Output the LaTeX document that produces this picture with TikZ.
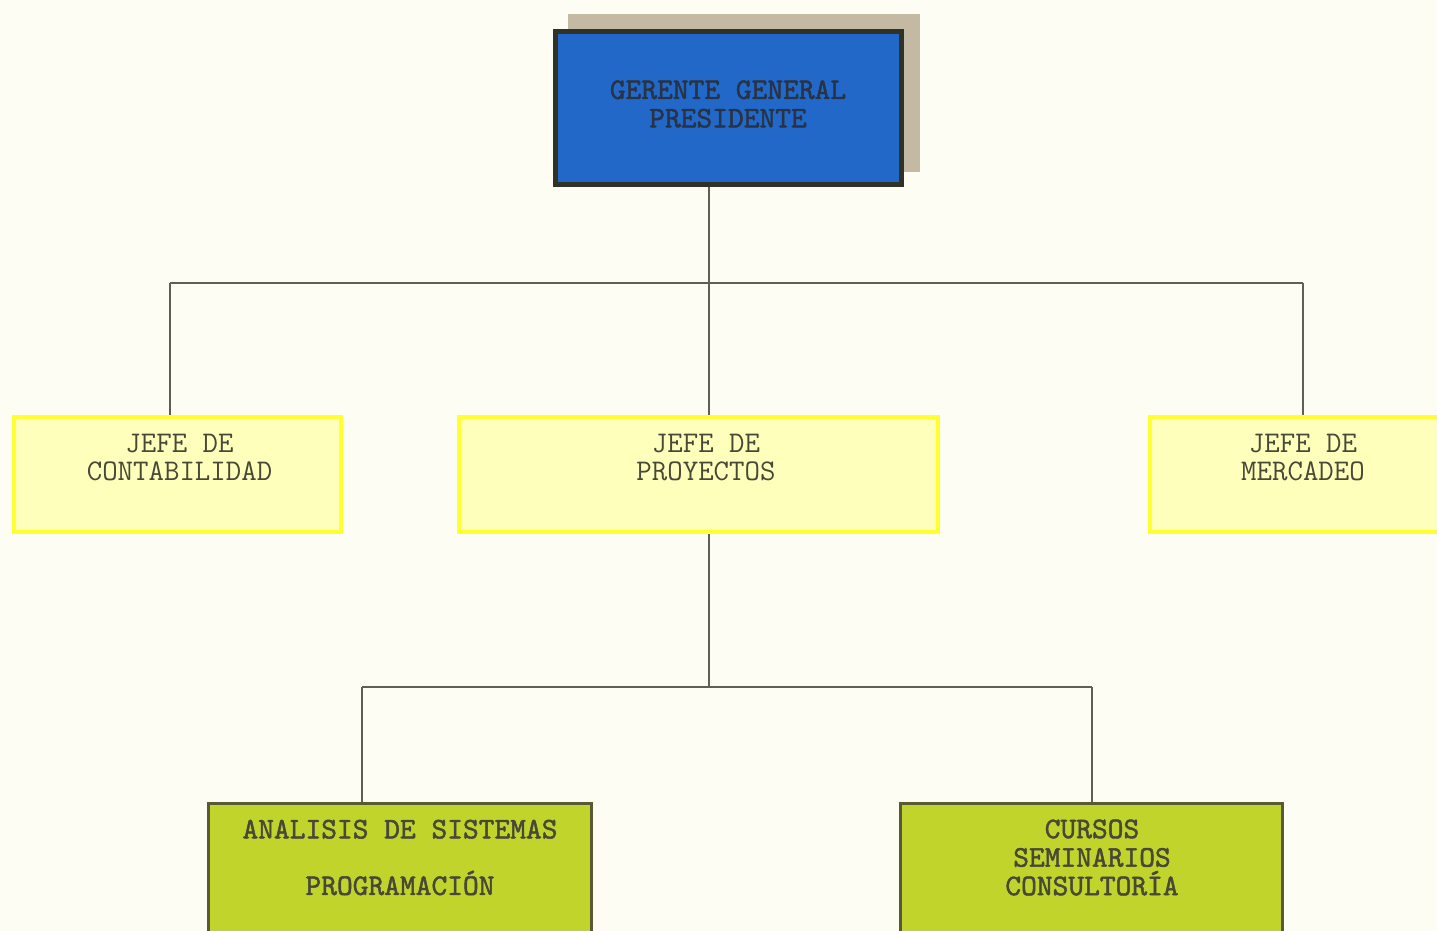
\documentclass[tikz,border=0pt]{standalone}
\usepackage{fontspec}
\newfontfamily\ttbold{lmmono10-regular.otf}[FakeBold=1.6]
\definecolor{bgc}{RGB}{253,253,243}
\definecolor{bluefill}{RGB}{33,104,200}
\definecolor{blueborder}{RGB}{48,50,40}
\definecolor{shadowc}{RGB}{196,186,164}
\definecolor{yfill}{RGB}{255,255,188}
\definecolor{yborder}{RGB}{255,255,50}
\definecolor{gfill}{RGB}{192,212,44}
\definecolor{gborder}{RGB}{88,90,52}
\definecolor{linec}{RGB}{95,95,85}
\definecolor{txtc}{RGB}{72,72,55}
\definecolor{toptxt}{RGB}{40,52,70}
\begin{document}
\begin{tikzpicture}[x=1pt,y=-1pt,
  boxbase/.style={rectangle, inner sep=0pt},
  topbox/.style={boxbase, fill=bluefill, draw=blueborder, line width=5pt},
  ybox/.style={boxbase, fill=yfill, draw=yborder, line width=4pt},
  gbox/.style={boxbase, fill=gfill, draw=gborder, line width=3pt},
  txt/.style={inner sep=0pt, align=center, text=txtc, font=\ttfamily\fontsize{30}{28}\selectfont},
  btxt/.style={txt, font=\ttbold\fontsize{30}{28.5}\selectfont},
  conn/.style={draw=linec, line width=2pt}
]
\useasboundingbox (0,0) rectangle (1437,931);
\clip (0,0) rectangle (1437,931);
\fill[bgc] (0,0) rectangle (1437,931);

% shadow and top box
\fill[shadowc] (568,14) rectangle (920,172);
\node[topbox, minimum width=346pt, minimum height=153pt] (top) at (728.5,108) {};
\node[btxt, text=toptxt] (topT) at (728,104) {GERENTE GENERAL\\PRESIDENTE};

% second level
\node[ybox, minimum width=327pt, minimum height=115pt] (cont) at (177.5,474.5) {};
\node[txt] (contT) at (179.5,458) {JEFE DE\\CONTABILIDAD};
\node[ybox, minimum width=479pt, minimum height=115pt] (proy) at (698.5,474.5) {};
\node[txt] (proyT) at (706,458) {JEFE DE\\PROYECTOS};
\node[ybox, minimum width=310pt, minimum height=115pt] (merc) at (1305,474.5) {};
\node[txt] (mercT) at (1303,458) {JEFE DE\\MERCADEO};

% third level
\node[gbox, minimum width=383pt, minimum height=160pt] (anal) at (400,883) {};
\node[btxt] (analT) at (400,857.5) {ANALISIS DE SISTEMAS\\[28pt]PROGRAMACIÓN};
\node[gbox, minimum width=382pt, minimum height=160pt] (curs) at (1091.5,883) {};
\node[btxt] (cursT) at (1092,857.5) {CURSOS\\SEMINARIOS\\CONSULTORÍA};

% connectors
\coordinate (j1) at (709,283);
\coordinate (b1) at (170,283);
\coordinate (b3) at (1303,283);
\coordinate (j2) at (709,687);
\coordinate (c1) at (362,687);
\coordinate (c2) at (1092,687);
\draw[conn] (top.south -| j1) -- (j1);
\draw[conn] (b1) -- (b3);
\draw[conn] (b1) -- (b1 |- cont.north);
\draw[conn] (j1) -- (j1 |- proy.north);
\draw[conn] (b3) -- (b3 |- merc.north);
\draw[conn] (proy.south -| j2) -- (j2);
\draw[conn] (c1) -- (c2);
\draw[conn] (c1) -- (c1 |- anal.north);
\draw[conn] (c2) -- (c2 |- curs.north);
\end{tikzpicture}
\end{document}
